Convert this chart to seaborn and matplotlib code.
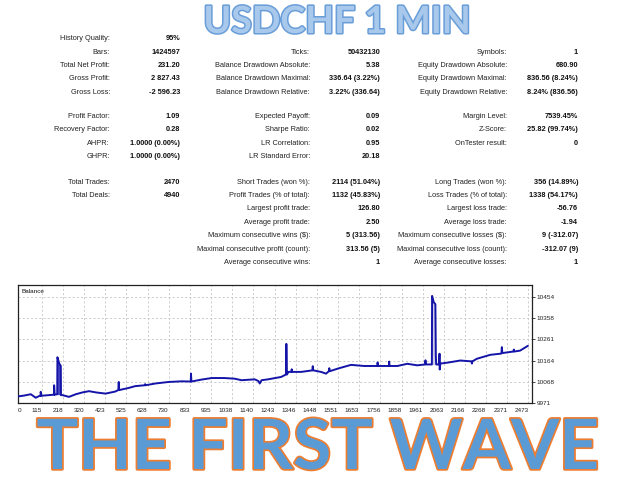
import matplotlib
matplotlib.use("Agg")
import matplotlib.pyplot as plt
import matplotlib.patheffects as pe
import numpy as np
import seaborn as sns

W, H = 640, 480

# report table: (label, value) per column, grouped in blocks
col1_labels = ["History Quality:", "Bars:", "Total Net Profit:", "Gross Profit:", "Gross Loss:",
               "Profit Factor:", "Recovery Factor:", "AHPR:", "GHPR:",
               "Total Trades:", "Total Deals:"]
col1_values = ["95%", "1424597", "231.20", "2 827.43", "-2 596.23",
               "1.09", "0.28", "1.0000 (0.00%)", "1.0000 (0.00%)",
               "2470", "4940"]
col1_rows = [0, 1, 2, 3, 4, 5, 6, 7, 8, 9, 10]

col2_labels = ["Ticks:", "Balance Drawdown Absolute:", "Balance Drawdown Maximal:",
               "Balance Drawdown Relative:",
               "Expected Payoff:", "Sharpe Ratio:", "LR Correlation:", "LR Standard Error:",
               "Short Trades (won %):", "Profit Trades (% of total):", "Largest profit trade:",
               "Average profit trade:", "Maximum consecutive wins ($):",
               "Maximal consecutive profit (count):", "Average consecutive wins:"]
col2_values = ["50432130", "5.38", "336.64 (3.22%)", "3.22% (336.64)",
               "0.09", "0.02", "0.95", "20.18",
               "2114 (51.04%)", "1132 (45.83%)", "126.80", "2.50", "5 (313.56)",
               "313.56 (5)", "1"]
col2_rows = [1, 2, 3, 4, 5, 6, 7, 8, 9, 10, 11, 12, 13, 14, 15]

col3_labels = ["Symbols:", "Equity Drawdown Absolute:", "Equity Drawdown Maximal:",
               "Equity Drawdown Relative:",
               "Margin Level:", "Z-Score:", "OnTester result:",
               "Long Trades (won %):", "Loss Trades (% of total):", "Largest loss trade:",
               "Average loss trade:", "Maximum consecutive losses ($):",
               "Maximal consecutive loss (count):", "Average consecutive losses:"]
col3_values = ["1", "680.90", "836.56 (8.24%)", "8.24% (836.56)",
               "7539.45%", "25.82 (99.74%)", "0",
               "356 (14.89%)", "1338 (54.17%)", "-56.76", "-1.94", "9 (-312.07)",
               "-312.07 (9)", "1"]
col3_rows = [1, 2, 3, 4, 5, 6, 7, 9, 10, 11, 12, 13, 14, 15]

# balance curve (trade number, balance), spikes included
trade_no = [0, 30, 62, 86, 105, 110, 110, 112, 150, 175, 175, 177, 190, 191, 200, 207, 208,
            215, 247, 280, 311, 344, 380, 424, 470, 486, 488, 490, 537, 568, 614, 616, 618,
            665, 729, 794, 837, 838, 840, 890, 938, 1000, 1050, 1083, 1147, 1165, 1171, 1180,
            1211, 1275, 1298, 1300, 1303, 1310, 1324, 1326, 1328, 1372, 1426, 1428, 1430,
            1468, 1492, 1506, 1508, 1510, 1549, 1613, 1677, 1741, 1742, 1744, 1797, 1798,
            1800, 1838, 1886, 1934, 1972, 1974, 1976, 2005, 2006, 2014, 2022, 2024, 2026,
            2040, 2042, 2043, 2046, 2079, 2143, 2197, 2199, 2201, 2223, 2288, 2336, 2342,
            2344, 2346, 2400, 2402, 2404, 2432, 2470]
balance = [10000, 10004, 10010, 9994, 10003, 10003, 10021, 10003, 10006, 10008, 10051, 10008,
           10010, 10179, 10150, 10140, 10006, 10006, 9998, 10010, 10018, 10024, 10018, 10013,
           10022, 10029, 10066, 10029, 10039, 10047, 10051, 10056, 10051, 10059, 10066,
           10069, 10068, 10104, 10068, 10077, 10084, 10084, 10081, 10074, 10078, 10070,
           10059, 10074, 10078, 10089, 10100, 10240, 10100, 10112, 10112, 10124, 10112,
           10112, 10119, 10138, 10119, 10112, 10104, 10115, 10129, 10115, 10127, 10144,
           10139, 10139, 10155, 10139, 10139, 10159, 10139, 10139, 10149, 10142, 10146,
           10165, 10146, 10146, 10459, 10430, 10421, 10187, 10146, 10146, 10195, 10123,
           10150, 10154, 10164, 10160, 10150, 10160, 10172, 10190, 10195, 10196, 10225,
           10198, 10205, 10214, 10205, 10209, 10231]
spike_spans = [(190, 208), (2005, 2024)]
spike_base = [10008, 10146]
spike_colors = ["#4a4ac4", "#cfcfe8"]

x_ticks = [0, 115, 218, 320, 423, 525, 628, 730, 833, 935, 1038, 1140, 1243, 1346, 1448,
           1551, 1653, 1756, 1858, 1961, 2063, 2166, 2268, 2371, 2473]
y_ticks = [9971, 10068, 10164, 10261, 10358, 10454]

sns.set_theme(style="white")
plt.rcParams["font.family"] = ["Liberation Sans", "DejaVu Sans"]

fig = plt.figure(figsize=(W / 100, H / 100), dpi=100)
fig.patch.set_facecolor("white")


def fx(px):
    return px / W


def fy(py):
    return 1 - py / H


# report rows
def row_y(r):
    if r <= 4:
        return 39 + 13.3 * r
    if r <= 8:
        return 116.5 + 13.4 * (r - 5)
    return 182 + 13.4 * (r - 9)


for labels, values, rows, lx, vx in [
    (col1_labels, col1_values, col1_rows, 110, 180),
    (col2_labels, col2_values, col2_rows, 310, 380),
    (col3_labels, col3_values, col3_rows, 507, 578),
]:
    for lab, val, r in zip(labels, values, rows):
        y = fy(row_y(r))
        fig.text(fx(lx), y, lab, ha="right", va="center", fontsize=5.3, color="#222222")
        fig.text(fx(vx), y, val, ha="right", va="center", fontsize=5.3,
                 fontweight="bold", color="#111111")

# headings
fig.text(fx(337), fy(22), "USDCHF 1 MIN", ha="center", va="center",
         fontsize=27, fontweight="bold", family=["Lato", "DejaVu Sans"], color="#a8c8ec",
         path_effects=[pe.withStroke(linewidth=2.2, foreground="#6a9ed8")])
fig.text(fx(318), fy(449.5), "THE FIRST WAVE", ha="center", va="center",
         fontsize=50, fontweight="bold", family=["Lato", "DejaVu Sans"], color="#5b9bd5",
         path_effects=[pe.withStroke(linewidth=2.5, foreground="#ed7d31")])

# balance chart
ax = fig.add_axes([fx(18), fy(403), fx(532 - 18), (403 - 284.5) / H])
x_arr = np.array(trade_no)
y_arr = np.array(balance)
for (a, b), base, c in zip(spike_spans, spike_base, spike_colors):
    m = (x_arr >= a) & (x_arr <= b)
    ax.fill_between(x_arr[m], base, y_arr[m], color=c, lw=0, zorder=2)
sns.lineplot(x=trade_no, y=balance, estimator=None, sort=False, ax=ax,
             color="#1414a8", linewidth=1.4, zorder=3)

ax.set_xlim(0, 2490)
ax.set_ylim(9970, 10511)
ax.set_xticks(x_ticks)
ax.set_xticklabels([str(t) for t in x_ticks], fontsize=4.6)
for i, lab in enumerate(ax.get_xticklabels()):
    lab.set_ha("left" if i == 0 else "right")
ax.set_yticks(y_ticks)
ax.set_yticklabels([str(t) for t in y_ticks], fontsize=4.6)
ax.yaxis.tick_right()
ax.tick_params(axis="both", length=2, width=0.6, pad=1.5, colors="#222222")
ax.grid(True, color="#c4c4c4", linestyle=(0, (2.5, 2.5)), linewidth=0.6)
ax.set_xlabel("")
ax.set_ylabel("")
for s in ax.spines.values():
    s.set_color("#222222")
    s.set_linewidth(0.9)
    s.set_visible(True)
ax.text(0.006, 0.96, "Balance", transform=ax.transAxes, ha="left", va="top",
        fontsize=4.6, color="#111111")

fig.savefig("out.png", dpi=100)
